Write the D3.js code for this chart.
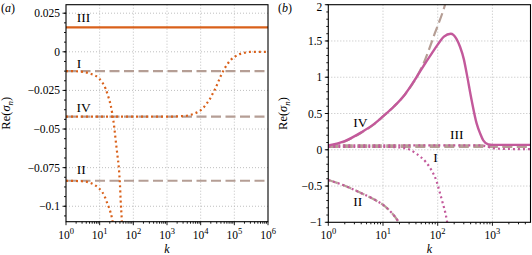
<!DOCTYPE html>
<html><head><meta charset="utf-8">
<script src="https://cdn.jsdelivr.net/npm/d3@7"></script>
<style>
html,body{margin:0;padding:0;background:#fff;}
svg{display:block;font-family:"Liberation Serif","DejaVu Serif",serif;}
</style></head>
<body>
<svg id="c" width="532" height="255"></svg>
<script>
// ---------- data: panel (a) ----------
const aTicksY = [0.025, 0, -0.025, -0.05, -0.075, -0.1];
const aTickLabelsY = ["0.025", "0", "\u22120.025", "\u22120.05", "\u22120.075", "\u22120.1"];
const aTicksX = [1, 10, 100, 1000, 10000, 100000, 1000000];
const aTickExpX = ["0", "1", "2", "3", "4", "5", "6"];
const aLevelIII = 0.0158;
const aLevelI = -0.0125;
const aLevelIV = -0.0420;
const aLevelII = -0.0835;
const aCurveI = [[1,-0.0125],[2,-0.0126],[3.5,-0.0131],[5.15,-0.0141],[7.25,-0.0153],[9.7,-0.0173],[12.3,-0.0202],[15.1,-0.0240],[18,-0.0290],[21.2,-0.0345],[23.7,-0.0401],[27.1,-0.0488],[29.8,-0.0570],[33.3,-0.0661],[37.4,-0.0760],[40,-0.0857],[42,-0.0960],[45,-0.1073],[47,-0.1150]];
const aCurveII = [[1,-0.0835],[3,-0.0838],[4.9,-0.0846],[6.9,-0.0861],[9.5,-0.0883],[11.9,-0.0908],[14.3,-0.0940],[16.1,-0.0970],[18.9,-0.1009],[21.2,-0.1042],[23.2,-0.1078],[25,-0.1120]];
const aCurveIV = [[1,-0.0420],[1000,-0.0420],[2500,-0.0417],[4260,-0.0412],[6300,-0.0401],[8900,-0.0386],[11800,-0.0365],[15000,-0.0336],[18700,-0.0306],[22000,-0.0277],[26300,-0.0245],[31000,-0.0211],[35500,-0.0180],[41800,-0.0145],[50000,-0.0113],[61500,-0.0082],[77000,-0.0054],[103000,-0.0032],[145000,-0.0015],[205000,-0.0006],[290000,-0.0001],[1000000,0]];

// ---------- data: panel (b) ----------
const bTicksY = [2, 1.5, 1, 0.5, 0, -0.5, -1];
const bTickLabelsY = ["2", "1.5", "1", "0.5", "0", "\u22120.5", "\u22121"];
const bTicksX = [1, 10, 100, 1000];
const bTickExpX = ["0", "1", "2", "3"];
const bLevelIII = 0.060;
const bLevelI = 0.040;
const bCurveIV = [[1,0.06],[2,0.12],[4,0.24],[7,0.36],[10,0.46],[16,0.6],[25,0.76],[41,1.0],[60,1.2],[78,1.33],[100,1.45],[130,1.56],[173,1.6],[220,1.53],[256,1.42],[300,1.25],[339,1.05],[418,0.68],[516,0.36],[600,0.22],[680,0.13],[840,0.075],[1000,0.068],[5000,0.068]];
const bAsymIV = [[1,0.05],[2,0.115],[4,0.235],[7,0.355],[10,0.46],[16,0.6],[25,0.76],[41,1.0],[55,1.19],[89,1.61],[136,2.0],[160,2.2]];
const bCurveI = [[1,0.04],[10,0.04],[20,0.032],[25,0.022],[31,0.0],[41,-0.056],[61,-0.172],[78,-0.29],[95,-0.43],[107,-0.565],[123,-0.73],[138,-0.87],[146,-0.96],[155,-1.08]];
const bCurveIII = [[1,0.06],[600,0.06],[800,0.045],[1000,0.022],[1500,0.013],[5000,0.008]];
const bCurveII = [[1,-0.417],[2,-0.496],[3.8,-0.59],[7.1,-0.69],[10.9,-0.78],[14.4,-0.87],[19,-0.99],[21,-1.05]];

// ---------- styles ----------
const ORANGE = "#d9601a";
const PINK = "#c3599b";
const DASHC = "#b59e95";
const GRIDC = "#b8b8b8";

const svg = d3.select("#c");

function panel(opt) {
  const g = svg.append("g");
  const x = d3.scaleLog().domain(opt.xdom).range([opt.L, opt.R]);
  const y = d3.scaleLinear().domain(opt.ydom).range([opt.B, opt.T]);
  const cid = "clip" + opt.id;
  svg.append("clipPath").attr("id", cid).append("rect")
    .attr("x", opt.L).attr("y", opt.T).attr("width", opt.R - opt.L).attr("height", opt.B - opt.T);

  // grid
  const grid = g.append("g").attr("stroke", GRIDC).attr("stroke-width", 0.9).attr("stroke-dasharray", "1,2");
  opt.xt.forEach(v => {
    const px = x(v);
    if (px > opt.L + 1 && px < opt.R - 1)
      grid.append("line").attr("x1", px).attr("x2", px).attr("y1", opt.T).attr("y2", opt.B);
  });
  opt.yt.forEach(v => {
    const py = y(v);
    if (py > opt.T + 1 && py < opt.B - 1)
      grid.append("line").attr("y1", py).attr("y2", py).attr("x1", opt.L).attr("x2", opt.R);
  });

  // ticks x
  const tk = g.append("g").attr("stroke", "#000").attr("stroke-width", 0.9);
  const [x0, x1] = opt.xdom;
  for (let e = Math.floor(Math.log10(x0)); e <= Math.ceil(Math.log10(x1)); e++) {
    for (let m = 1; m <= 9; m++) {
      const v = m * Math.pow(10, e);
      if (v < x0 * 0.9999 || v > x1 * 1.0001) continue;
      const px = x(v);
      tk.append("line").attr("x1", px).attr("x2", px).attr("y1", opt.B).attr("y2", opt.B + (m === 1 ? 3.5 : 2));
    }
  }
  // ticks y minor
  const [y0, y1] = opt.ydom;
  const n0 = Math.ceil(y0 / opt.minor - 1e-6), n1 = Math.floor(y1 / opt.minor + 1e-6);
  for (let n = n0; n <= n1; n++) {
    const py = y(n * opt.minor);
    tk.append("line").attr("x1", opt.L).attr("x2", opt.L - 2).attr("y1", py).attr("y2", py);
  }
  opt.yt.forEach(v => {
    const py = y(v);
    tk.append("line").attr("x1", opt.L).attr("x2", opt.L - 3.5).attr("y1", py).attr("y2", py);
  });

  // tick labels
  opt.yt.forEach((v, i) => {
    g.append("text").attr("x", opt.L - 6).attr("y", Math.max(y(v) + 4, 10.5)).attr("text-anchor", "end")
      .attr("font-size", 11.5).text(opt.ytl[i]);
  });
  opt.xt.forEach((v, i) => {
    const t = g.append("text").attr("x", x(v)).attr("y", opt.B + 17).attr("text-anchor", "middle").attr("font-size", 11.5);
    t.append("tspan").text("10");
    t.append("tspan").attr("dy", -5).attr("font-size", 8.5).text(opt.xte[i]);
  });

  // axis labels
  g.append("text").attr("x", (opt.L + opt.R) / 2).attr("y", 252.5).attr("text-anchor", "middle")
    .attr("font-size", 12).attr("font-style", "italic").text("k");
  const yl = g.append("text").attr("transform", `translate(${opt.ylx},${(opt.T + opt.B) / 2}) rotate(-90)`)
    .attr("text-anchor", "middle").attr("font-size", 12.5);
  yl.append("tspan").text("Re(");
  yl.append("tspan").attr("font-style", "italic").text("\u03c3");
  yl.append("tspan").attr("font-style", "italic").attr("font-size", 9).attr("dy", 2.5).text("n");
  yl.append("tspan").attr("dy", -2.5).text(")");

  g.append("text").attr("x", opt.plx).attr("y", 11.5).attr("font-size", 12)
    .html('(<tspan font-style="italic">' + opt.pl + '</tspan>)');

  const data = svg.append("g").attr("clip-path", `url(#${cid})`);
  const line = d3.line().x(d => x(d[0])).y(d => y(d[1])).curve(d3.curveMonotoneX);
  return {g, x, y, data, line, opt};
}

function drawLine(p, pts, color, kind) {
  const path = p.data.append("path").attr("d", p.line(pts)).attr("fill", "none")
    .attr("stroke", color).attr("stroke-width", kind === "solid" ? 2.4 : 2.2);
  if (kind === "dash") path.attr("stroke-dasharray", "10,4.5");
  if (kind === "dot") path.attr("stroke-dasharray", "2,3");
  return path;
}
function level(p, v) { return [[p.opt.xdom[0], v], [p.opt.xdom[1], v]]; }
function label(p, txt, k, v) {
  p.g.append("text").attr("x", p.x(k)).attr("y", p.y(v)).attr("font-size", 13.5).text(txt);
}

// ---------- panel (a) ----------
const pa = panel({id: "a", L: 66, R: 268, T: 4.7, B: 221.7, xdom: [1, 1e6], ydom: [-0.11, 0.0305],
  xt: aTicksX, xte: aTickExpX, yt: aTicksY, ytl: aTickLabelsY, minor: 0.00625, ylx: 10, plx: 1, pl: "a"});
drawLine(pa, level(pa, aLevelI), DASHC, "dash");
drawLine(pa, level(pa, aLevelIV), DASHC, "dash");
drawLine(pa, level(pa, aLevelII), DASHC, "dash");
drawLine(pa, level(pa, aLevelIII), ORANGE, "solid");
drawLine(pa, aCurveI, ORANGE, "dot");
drawLine(pa, aCurveII, ORANGE, "dot");
drawLine(pa, aCurveIV, ORANGE, "dot");
label(pa, "III", 2.1, 0.0195);
label(pa, "I", 2.1, -0.0108);
label(pa, "IV", 2.05, -0.0391);
label(pa, "II", 2.1, -0.0792);

// ---------- panel (b) ----------
const pb = panel({id: "b", L: 328.3, R: 530.5, T: 4.7, B: 222.3, xdom: [1, 4970], ydom: [-1, 2],
  xt: bTicksX, xte: bTickExpX, yt: bTicksY, ytl: bTickLabelsY, minor: 0.1, ylx: 287, plx: 278, pl: "b"});
drawLine(pb, level(pb, bLevelIII), DASHC, "dash");
drawLine(pb, level(pb, bLevelI), DASHC, "dash");
drawLine(pb, bCurveII, DASHC, "dash");
drawLine(pb, bAsymIV, DASHC, "dash");
drawLine(pb, bCurveI, PINK, "dot");
drawLine(pb, bCurveIII, PINK, "dot");
drawLine(pb, bCurveII, PINK, "dot");
drawLine(pb, bCurveIV, PINK, "solid");
label(pb, "IV", 2.87, 0.314);
label(pb, "III", 168, 0.153);
label(pb, "I", 83, -0.172);
label(pb, "II", 2.87, -0.774);

// frames
[pa, pb].forEach(p => {
  const o = p.opt;
  svg.append("rect").attr("x", o.L).attr("y", o.T).attr("width", o.R - o.L).attr("height", o.B - o.T)
    .attr("fill", "none").attr("stroke", "#000").attr("stroke-width", 1.1);
});
</script>
</body></html>
